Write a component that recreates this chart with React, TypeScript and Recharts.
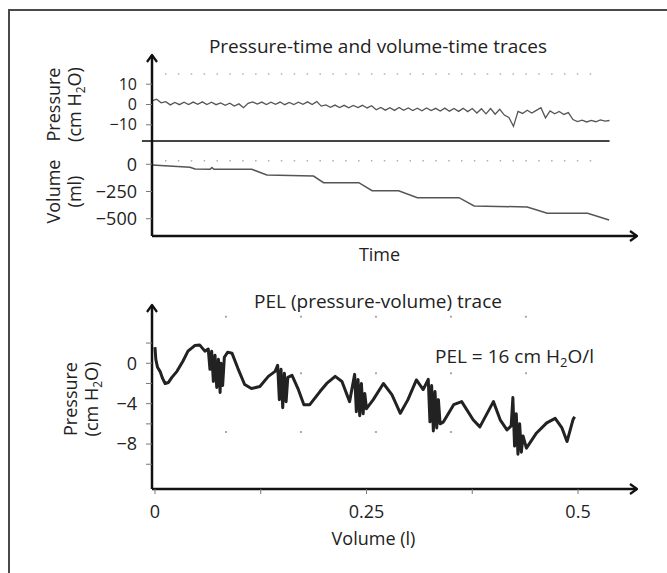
import React from 'react';
import { LineChart, Line, XAxis, YAxis, ReferenceLine } from 'recharts';

// pressure-time trace (cm H2O), one reading per sample step
const pressureTrace = [
  1.8, 2.6, 0.8, 1.4, -0.2, 1.0, -0.1, 1.1, 0.0, 1.2,
  0.1, 1.3, 0.0, 1.1, -0.1, 0.8, -0.4, 0.6, -0.8, 0.3,
  -1.6, 0.6, 1.3, 0.2, 1.2, 0.0, 1.1, 0.1, 1.2, -0.1,
  1.0, 0.0, 1.1, 0.1, 1.3, 0.0, 1.4, -0.8, -0.2, -1.4,
  -0.3, -1.5, -0.4, -1.6, -0.5, -1.5, -0.4, -1.7, -0.6, -2.6,
  -1.5, -2.8, -1.6, -2.9, -1.5, -2.9, -1.7, -3.0, -1.8, -3.1,
  -1.7, -3.0, -1.9, -3.2, -1.8, -3.3, -2.0, -3.4, -1.9, -3.5,
  -2.0, -4.2, -2.1, -4.6, -2.0, -4.8, -2.4, -5.2, -6.4, -10.8,
  -3.4, -4.4, -2.8, -4.2, -2.9, -1.6, -6.6, -3.2, -4.6, -3.4,
  -4.9, -4.0, -7.4, -8.4, -7.7, -8.6, -7.8, -8.5, -7.6, -8.2,
  -7.9,
];

// volume-time trace (ml)
const volumeTime = [0, 8.3, 9.4, 12.7, 13.1, 13.5, 21.8, 25.1, 35.3, 37.5, 45.2, 48.1, 53.9, 58.0, 67.1, 70.4, 82.0, 86.4, 95.2, 99.9];
const volumeMl = [-6, -27, -44, -46, -30, -46, -46, -98, -108, -169, -169, -243, -243, -307, -307, -383, -392, -450, -450, -512];

// PEL trace: pressure (cm H2O) against volume (l)
const pelVolume = [
  0.0, 0.001, 0.003, 0.006, 0.009, 0.012, 0.016, 0.02, 0.026, 0.033, 0.039, 0.047, 0.053, 0.059,
  0.063, 0.065, 0.067, 0.069, 0.071, 0.073, 0.075, 0.077, 0.078, 0.08, 0.082,
  0.086, 0.091, 0.098, 0.106, 0.114, 0.124, 0.134, 0.142,
  0.145, 0.147, 0.149, 0.151, 0.153, 0.155, 0.157,
  0.162, 0.169, 0.176, 0.183, 0.195, 0.203, 0.213, 0.221, 0.23,
  0.236, 0.238, 0.24, 0.242, 0.244, 0.246, 0.248,
  0.25, 0.258, 0.27, 0.28, 0.29, 0.299, 0.309, 0.317,
  0.323, 0.325, 0.327, 0.329, 0.331, 0.333, 0.335, 0.337,
  0.341, 0.353, 0.3625, 0.376, 0.384, 0.4, 0.408, 0.416,
  0.421, 0.423, 0.425, 0.427, 0.429, 0.431, 0.433, 0.435,
  0.439, 0.451, 0.463, 0.473, 0.481, 0.487, 0.494, 0.496,
];
const pelPressure = [
  1.6, 0.4, -0.4, -0.8, -1.5, -2.0, -1.9, -1.4, -0.8, 0.2, 1.2, 1.75, 1.8, 1.2,
  1.4, -0.6, 1.2, -1.8, 0.8, -2.4, 0.4, -2.9, 0.0, -2.2, 0.6,
  1.1, 1.0, -0.5, -2.1, -2.5, -2.3, -1.3, -0.8,
  -0.2, -3.6, -0.6, -4.4, -1.0, -3.8, -1.4,
  -1.2, -2.5, -4.1, -4.1, -2.8, -2.0, -1.3, -1.8, -3.8,
  -1.1, -4.8, -1.6, -5.2, -2.0, -5.0, -3.0,
  -4.5, -3.6, -2.0, -3.1, -4.95, -3.6, -1.65, -2.6,
  -1.6, -5.8, -2.2, -6.7, -2.8, -6.4, -3.6, -6.0,
  -5.8, -4.1, -3.8, -5.6, -6.3, -3.8, -5.6, -6.6,
  -6.2, -3.4, -8.2, -5.0, -9.0, -6.0, -8.8, -7.2,
  -8.4, -6.9, -5.9, -5.45, -6.4, -7.75, -5.6, -5.3,
];

const pressureTicks = [10, 0, -10];
const volumeTicks = [0, -250, -500];
const pelPressureTicks = [2, 0, -2, -4, -6, -8, -10];
const pelPressureLabels = [0, -4, -8];
const pelVolumeTicks = [0, 0.125, 0.25, 0.375, 0.5];
const pelVolumeLabels = [0, 0.25, 0.5];

const pressureData = pressureTrace.map((p, i) => ({ t: i, p }));
const volumeData = volumeTime.map((t, i) => ({ t, v: volumeMl[i] }));
const pelData = pelVolume.map((v, i) => ({ v, p: pelPressure[i] }));

const ink = '#222';
const axisLine = { stroke: '#111', strokeWidth: 2.5 };
const tickLine = { stroke: '#777', strokeWidth: 1 };
const tickText = { fill: ink, fontSize: 18 };

const minus = (v: number) => (v < 0 ? '\u2212' + Math.abs(v) : String(v));

const ArrowDefs = () => (
  <svg width={0} height={0} style={{ position: 'absolute' }}>
    <defs>
      <marker
        id="axisArrow"
        viewBox="0 0 12 12"
        refX={10}
        refY={6}
        markerWidth={12}
        markerHeight={12}
        markerUnits="userSpaceOnUse"
        orient="auto-start-reverse"
      >
        <path d="M3,1 L10,6 L3,11" fill="none" stroke="#111" strokeWidth={2.2} strokeLinejoin="round" />
      </marker>
    </defs>
  </svg>
);

// two-line rotated axis title
const AxisTitle = ({ baseX, midY, first, unit, sub, rest }: any) => {
  const x2 = baseX + 21;
  return (
    <g fill={ink} fontSize={18}>
      <text x={baseX} y={midY} textAnchor="middle" transform={`rotate(-90 ${baseX} ${midY})`}>
        {first}
      </text>
      <text x={x2} y={midY} textAnchor="middle" transform={`rotate(-90 ${x2} ${midY})`}>
        <tspan>{unit}</tspan>
        {sub && (
          <tspan fontSize={12} dy={4}>
            {sub}
          </tspan>
        )}
        {sub ? <tspan dy={-4}>{rest}</tspan> : null}
      </text>
    </g>
  );
};

const PressureChart = () => (
  <LineChart width={667} height={150} data={pressureData} margin={{ top: 55, right: 30, bottom: 9, left: 112 }}>
    <XAxis type="number" dataKey="t" domain={[0, 106]} hide />
    <YAxis
      type="number"
      domain={[-18, 24.4]}
      ticks={pressureTicks}
      interval={0}
      width={40}
      tickSize={6}
      tickMargin={9}
      tick={{ fill: ink, fontSize: 16 }}
      tickLine={tickLine}
      tickFormatter={minus}
      axisLine={{ ...axisLine, markerStart: 'url(#axisArrow)' }}
      label={<AxisTitle baseX={60} midY={104.5} first="Pressure" unit="(cm H" sub="2" rest="O)" />}
    />
    <ReferenceLine
      segment={[{ x: 2.84, y: 15 }, { x: 98.1, y: 15 }]}
      stroke="#b0b0b0"
      strokeWidth={1.5}
      strokeDasharray="1.5 11.37"
      ifOverflow="visible"
    />
    <ReferenceLine
      segment={[{ x: -2.2, y: -18 }, { x: 100, y: -18 }]}
      stroke="#444"
      strokeWidth={2}
      ifOverflow="visible"
    />
    <Line type="linear" dataKey="p" stroke="#555" strokeWidth={1.3} dot={false} isAnimationActive={false} />
  </LineChart>
);

const VolumeChart = () => (
  <LineChart width={667} height={150} data={volumeData} margin={{ top: 11, right: 30, bottom: 0, left: 112 }}>
    <XAxis
      type="number"
      dataKey="t"
      domain={[0, 106]}
      height={44}
      tick={false}
      tickLine={false}
      axisLine={{ ...axisLine, markerEnd: 'url(#axisArrow)' }}
      label={{ value: 'Time', position: 'insideTop', offset: 12, dx: -15, fill: ink, fontSize: 18 }}
    />
    <YAxis
      type="number"
      domain={[-659, 214]}
      ticks={volumeTicks}
      interval={0}
      width={40}
      tickSize={6}
      tickMargin={9}
      tick={tickText}
      tickLine={tickLine}
      tickFormatter={minus}
      axisLine={axisLine}
      label={<AxisTitle baseX={60} midY={61.5} first="Volume" unit="(ml)" />}
    />
    <ReferenceLine
      segment={[{ x: 2.84, y: 33 }, { x: 98.1, y: 33 }]}
      stroke="#b0b0b0"
      strokeWidth={1.5}
      strokeDasharray="1.5 11.37"
      ifOverflow="visible"
    />
    <Line type="linear" dataKey="v" stroke="#555" strokeWidth={1.5} dot={false} isAnimationActive={false} />
  </LineChart>
);

const pelGridRows = [
  { p: 4.6, from: 0.0827, to: 0.441 },
  { p: -1.0, from: 0.1714, to: 0.441 },
  { p: -6.8, from: 0.0827, to: 0.353 },
];

const PelChart = () => (
  <LineChart width={667} height={283} data={pelData} margin={{ top: 15, right: 30, bottom: 14, left: 112 }}>
    <XAxis
      type="number"
      dataKey="v"
      domain={[-0.0035, 0.5697]}
      ticks={pelVolumeTicks}
      interval={0}
      height={70}
      tickSize={5}
      tickMargin={11}
      tick={tickText}
      tickLine={tickLine}
      tickFormatter={(v: number) => (pelVolumeLabels.includes(v) ? String(v) : '')}
      axisLine={{ ...axisLine, markerEnd: 'url(#axisArrow)' }}
      label={{ value: 'Volume (l)', position: 'insideTop', offset: 43, dx: -21, fill: ink, fontSize: 18 }}
    />
    <YAxis
      type="number"
      domain={[-12.45, 5.77]}
      ticks={pelPressureTicks}
      interval={0}
      width={40}
      tickSize={6}
      tickMargin={9}
      tick={tickText}
      tickLine={tickLine}
      tickFormatter={(v: number) => (pelPressureLabels.includes(v) ? minus(v) : '')}
      axisLine={{ ...axisLine, markerStart: 'url(#axisArrow)' }}
      label={<AxisTitle baseX={77} midY={109} first="Pressure" unit="(cm H" sub="2" rest="O)" />}
    />
    {pelGridRows.map((r) => (
      <ReferenceLine
        key={r.p}
        segment={[{ x: r.from, y: r.p }, { x: r.to, y: r.p }]}
        stroke="#aaa"
        strokeWidth={2}
        strokeDasharray="2 73"
        ifOverflow="visible"
      />
    ))}
    <Line
      type="linear"
      dataKey="p"
      stroke="#222"
      strokeWidth={3}
      strokeLinejoin="round"
      dot={false}
      isAnimationActive={false}
    />
  </LineChart>
);

const titleStyle = (top: number): React.CSSProperties => ({
  position: 'absolute',
  left: 178,
  top,
  width: 400,
  textAlign: 'center',
  fontSize: 19,
  lineHeight: '22px',
  whiteSpace: 'nowrap',
});

export default function App() {
  return (
    <div
      style={{
        position: 'absolute',
        left: 0,
        top: 0,
        width: 667,
        height: 573,
        overflow: 'hidden',
        background: '#fff',
        fontFamily: '"Open Sans", sans-serif',
        color: ink,
      }}
    >
      <ArrowDefs />
      <div
        style={{
          position: 'absolute',
          left: 8,
          top: 9,
          width: 720,
          height: 620,
          border: '2px solid #4a4a4a',
          boxSizing: 'border-box',
        }}
      />
      <div style={titleStyle(35.4)}>Pressure-time and volume-time traces</div>
      <div style={{ position: 'absolute', left: 0, top: 0 }}>
        <PressureChart />
      </div>
      <div style={{ position: 'absolute', left: 0, top: 130 }}>
        <VolumeChart />
      </div>
      <div style={titleStyle(290.4)}>PEL (pressure-volume) trace</div>
      <div style={{ position: 'absolute', left: 0, top: 290 }}>
        <PelChart />
      </div>
      <div
        style={{
          position: 'absolute',
          left: 435,
          top: 345.4,
          fontSize: 19,
          lineHeight: '22px',
          whiteSpace: 'nowrap',
        }}
      >
        PEL = 16 cm H<sub style={{ fontSize: 13, lineHeight: 0, verticalAlign: '-4px' }}>2</sub>O/l
      </div>
    </div>
  );
}
